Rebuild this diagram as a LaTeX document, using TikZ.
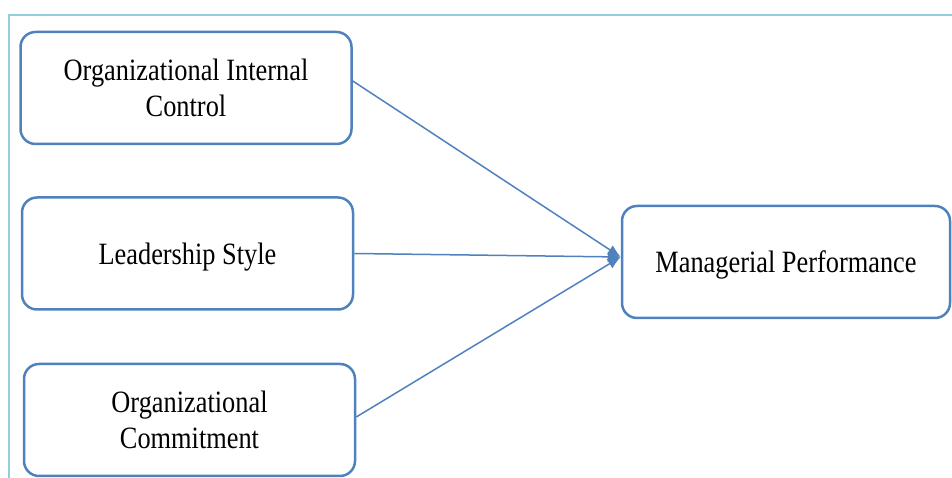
\documentclass[tikz,border=0pt]{standalone}
\usepackage{fontspec}
\setmainfont[FakeStretch=0.85]{Liberation Serif}
\usepackage{tikz}
\usetikzlibrary{arrows.meta}
\definecolor{boxblue}{RGB}{79,129,189}
\definecolor{framecyan}{RGB}{146,205,220}

\begin{document}
\begin{tikzpicture}[x = 1pt, y = 1pt, line width = 1.5pt]
\tikzset{var/.style = {rectangle, rounded corners = 15pt, draw = boxblue, line width = 2.5pt, minimum width = 331pt, minimum height = 112pt, inner sep = 0pt, align = center, text depth = 0pt, font = \fontsize{31}{36}\selectfont}}
\useasboundingbox (0,0) rectangle (952,478);
\draw[framecyan, line width = 2pt] (9,0) -- (9,463) -- (952,463);
\draw (186,390) node[var](c1){Organizational Internal\\Control}
    (187.5,224.5) node[var](c2){Leadership Style}
    (189.5,58) node[var](c3){Organizational\\Commitment}
    (786,216) node[var, minimum width = 328pt](m){Managerial Performance};
    \draw [-{Latex[length = 13pt, width = 11pt]}, boxblue] ([yshift = 7pt]c1.east) -- ([yshift = 5pt]m.west);
    \draw [-{Latex[length = 13pt, width = 11pt]}, boxblue] (c2.east) -- ([yshift = 5pt]m.west);
    \draw [-{Latex[length = 13pt, width = 11pt]}, boxblue] ([yshift = 3pt]c3.east) -- ([yshift = 5pt]m.west);
\end{tikzpicture}
\end{document}
